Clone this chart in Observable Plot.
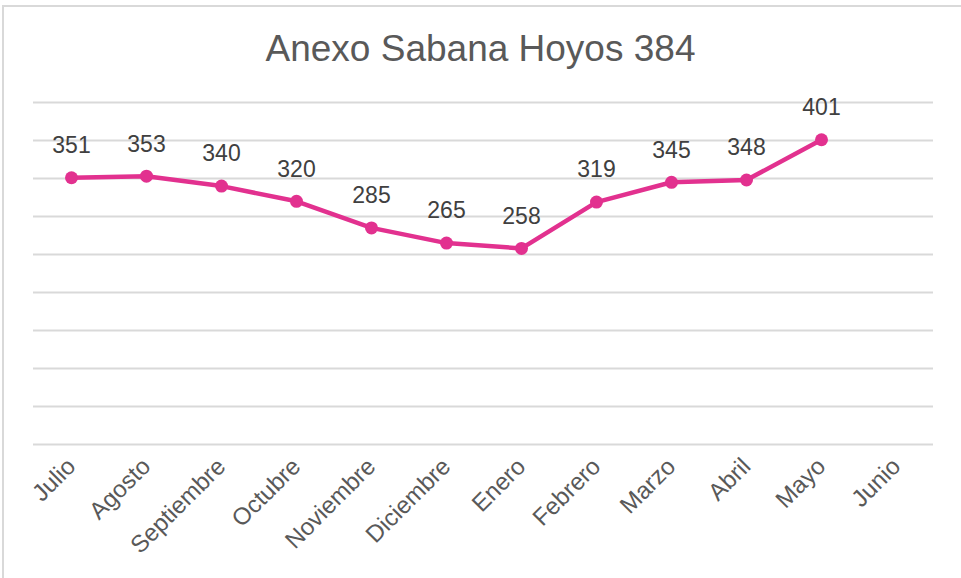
<!DOCTYPE html>
<html>
<head>
<meta charset="utf-8">
<script src="https://cdn.jsdelivr.net/npm/d3@7"></script>
<script src="https://cdn.jsdelivr.net/npm/@observablehq/plot@0.6"></script>
<style>
  html, body { margin: 0; padding: 0; background: #fff; }
  #frame { position: absolute; left: 2px; top: 5px; width: 1000px; height: 620px;
           border-top: 2px solid #d9d9d9; border-left: 2px solid #d9d9d9; box-sizing: border-box; }
  #wrap { position: absolute; left: 0; top: 0; width: 961px; height: 578px; font-family: "Liberation Sans", Arial, sans-serif; }
  #title { height: 80px; line-height: 98px; text-align: center; font-size: 37px; color: #595959; }
</style>
</head>
<body>
<div id="frame"></div>
<div id="wrap">
  <div id="title">Anexo Sabana Hoyos 384</div>
  <div id="chart"></div>
</div>
<script>
const months = ["Julio","Agosto","Septiembre","Octubre","Noviembre","Diciembre","Enero","Febrero","Marzo","Abril","Mayo","Junio"];
const values = [351, 353, 340, 320, 285, 265, 258, 319, 345, 348, 401, null];
const gridTicks = [0, 50, 100, 150, 200, 250, 300, 350, 400, 450];

const data = months.map((m, i) => ({month: m, value: values[i]})).filter(d => d.value != null);

const chart = Plot.plot({
  width: 961,
  height: 498,
  marginTop: 22,
  marginBottom: 134,
  marginLeft: 33,
  marginRight: 28,
  style: {fontFamily: "'Liberation Sans', Arial, sans-serif", background: "transparent"},
  x: {type: "point", domain: months, padding: 0.5, label: null},
  y: {domain: [0, 450], label: null, axis: null},
  marks: [
    Plot.gridY(gridTicks, {stroke: "#d9d9d9", strokeOpacity: 1, strokeWidth: 2}),
    Plot.axisX({tickSize: 0, tickPadding: 18, tickRotate: -45, fontSize: 24, fill: "#595959", label: null}),
    Plot.line(data, {x: "month", y: "value", stroke: "#e2318f", strokeWidth: 4.5}),
    Plot.dot(data, {x: "month", y: "value", r: 6.5, fill: "#e2318f", stroke: "none"}),
    Plot.text(data, {x: "month", y: "value", text: d => String(d.value), dy: -32, fontSize: 23, fill: "#404040"})
  ]
});
document.getElementById("chart").appendChild(chart);
</script>
</body>
</html>
